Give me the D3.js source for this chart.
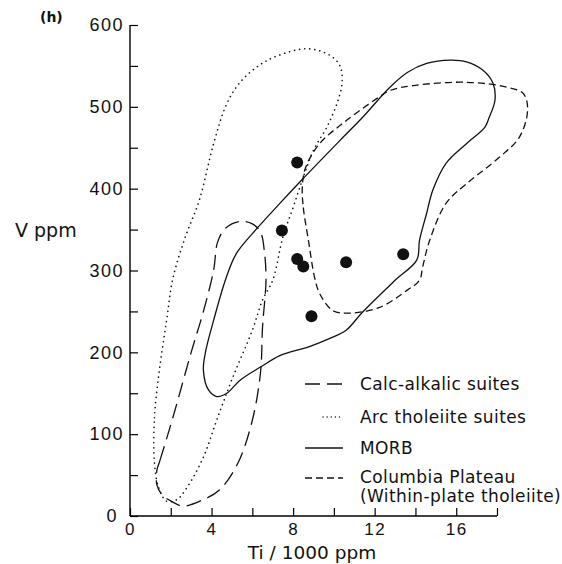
<!DOCTYPE html>
<html>
<head>
<meta charset="utf-8">
<script src="https://cdn.jsdelivr.net/npm/d3@7"></script>
<style>
  body { margin: 0; background: #fff; }
  text { fill: #111; }
</style>
</head>
<body>
<div id="chart"></div>
<script>
// Ti/1000 ppm vs V ppm fields
const calcAlkalic = [[1.32,56],[1.47,68],[2.1,120],[3.0,200],[3.6,250],[4.1,300],[4.3,335],[4.7,352],[5.4,360],[6.0,357],[6.4,347],[6.6,321],[6.67,288],[6.5,231],[6.4,175],[6.0,117],[5.3,65],[4.4,32],[3.6,20],[2.6,12],[2.1,17],[1.57,26],[1.32,38]]
const arcTholeiite = [[1.2,65],[1.2,120],[1.45,180],[1.8,240],[2.1,290],[2.7,340],[3.4,386],[4.1,455],[4.75,504],[5.4,530],[6.3,550],[7.2,562],[8.7,571],[9.8,563],[10.3,550],[10.4,529],[10.15,504],[9.65,475],[9.0,447],[8.5,414],[8.0,377],[7.5,341],[7.0,288],[6.5,264],[6.0,227],[5.05,170],[4.25,117],[3.6,72],[2.8,35],[2.3,20],[1.8,18],[1.4,35]]
const morb = [[3.6,178],[3.85,154],[4.25,146],[4.75,150],[5.4,166],[6.4,182],[7.35,196],[8.8,207],[9.8,217],[10.6,227],[11.4,249],[13.0,288],[14.07,313],[14.2,337],[14.55,370],[14.85,398],[15.5,431],[16.5,455],[17.4,475],[17.6,486],[17.9,508],[17.8,529],[17.3,545],[16.5,555],[15.7,557],[14.55,553],[13.6,542],[12.75,524],[11.4,487],[10.3,459],[8.4,410],[7.35,382],[6.0,345],[5.2,320],[4.7,290],[4.1,239],[3.7,200]]
const columbia = [[8.45,400],[8.5,377],[8.75,337],[9.05,292],[9.3,272],[9.95,251],[10.8,248],[12.25,255],[13.6,276],[14.2,288],[14.35,304],[14.7,337],[15.5,382],[16.5,406],[18.1,438],[19.1,463],[19.5,496],[19.3,516],[18.5,524],[16.5,530],[13.9,526],[12.75,520],[12.1,510],[10.6,483],[9.3,455],[8.6,425]]

const sampleTi = [8.2, 7.45, 8.2, 8.5, 10.6, 13.4, 8.9]
const sampleV = [432, 349, 314, 305, 310, 320, 244]

const xTicks = [0, 4, 8, 12, 16]
const xMinor = [2, 6, 10, 14, 18]
const yTicks = [0, 100, 200, 300, 400, 500, 600]
const yMinor = [50, 150, 250, 350, 450, 550]

const legendLabels = [["Calc-alkalic suites"], ["Arc tholeiite suites"], ["MORB"], ["Columbia Plateau", "(Within-plate tholeiite)"]]
const legendDash = ["15,7", "1,4", null, "7,4"]

width = 562
height = 564

const x = d3.scaleLinear().domain([0, 18]).range([130, 497])
const y = d3.scaleLinear().domain([0, 600]).range([516, 25])

const svg = d3.select("#chart").append("svg")
  .attr("width", width)
  .attr("height", height)
  .style("font-family", "'DejaVu Sans', sans-serif")

// axes, ticks pointing inward
const xAxis = svg.append("g")
  .attr("transform", `translate(0,${y(0)})`)
  .call(d3.axisBottom(x).tickValues(xTicks.concat(xMinor)).tickSize(-8).tickPadding(6)
    .tickFormat(d => xTicks.includes(d) ? d : ""))
xAxis.select(".domain").attr("d", `M${x(0)},0H${x(18)}`).attr("stroke-width", 1.4)
xAxis.selectAll(".tick line").attr("stroke-width", 1.2)
xAxis.selectAll("text").style("font-size", "17px").style("letter-spacing", "1.5px").attr("dy", "0.75em")

const yAxis = svg.append("g")
  .attr("transform", `translate(${x(0)},0)`)
  .call(d3.axisLeft(y).tickValues(yTicks.concat(yMinor)).tickSize(-8).tickPadding(6)
    .tickFormat(d => yTicks.includes(d) ? d : ""))
yAxis.select(".domain").attr("d", `M0,${y(0)}V${y(600)}`).attr("stroke-width", 1.4)
yAxis.selectAll(".tick line").attr("stroke-width", 1.2)
yAxis.selectAll("text").style("font-size", "18px").style("letter-spacing", "1.5px")
yAxis.selectAll(".tick").filter(d => d === 0).select("text").attr("x", -12)

svg.append("text").attr("x", 40).attr("y", 22).style("font-size", "14px").style("font-weight", "bold").text("(h)")
svg.append("text").attr("x", 15).attr("y", 237).style("font-size", "19px").text("V ppm")
svg.append("text").attr("x", 312).attr("y", 559).attr("text-anchor", "middle").style("font-size", "18.5px").text("Ti / 1000 ppm")

// fields
const line = d3.line().x(d => x(d[0])).y(d => y(d[1])).curve(d3.curveCatmullRomClosed.alpha(0.5))
const fields = [calcAlkalic, arcTholeiite, morb, columbia]
svg.selectAll(".field")
  .data(fields)
  .enter().append("path")
  .attr("class", "field")
  .attr("d", line)
  .attr("fill", "none")
  .attr("stroke", "#111")
  .attr("stroke-width", (d, i) => i === 1 ? 1.6 : 1.3)
  .attr("stroke-linecap", (d, i) => i === 1 ? "round" : "butt")
  .attr("stroke-dasharray", (d, i) => i === 1 ? "0.1,5" : legendDash[i])

svg.selectAll(".sample")
  .data(sampleTi)
  .enter().append("circle")
  .attr("cx", d => x(d))
  .attr("cy", (d, i) => y(sampleV[i]))
  .attr("r", 6)
  .attr("fill", "#111")

// legend
const rowY = [384, 417, 448, 477]
const entry = svg.append("g").selectAll(".entry")
  .data(legendLabels)
  .enter().append("g")
  .attr("class", "entry")
  .attr("transform", (d, i) => `translate(0,${rowY[i]})`)
entry.append("line")
  .attr("x1", (d, i) => i === 1 ? 323 : 305).attr("x2", 343)
  .attr("y1", (d, i) => i === 3 ? 1 : 0).attr("y2", (d, i) => i === 3 ? 1 : 0)
  .attr("stroke", "#111").attr("stroke-width", 1.3)
  .attr("stroke-linecap", (d, i) => i === 1 ? "round" : "butt")
  .attr("stroke-dasharray", (d, i) => i === 1 ? "0.1,4" : legendDash[i])
entry.append("text")
  .attr("x", 360)
  .style("font-size", "17px")
  .style("letter-spacing", "0.4px")
  .selectAll("tspan")
  .data(d => d)
  .enter().append("tspan")
  .attr("x", 360)
  .attr("y", (d, i) => 6 + i * 19)
  .text(d => d)
</script>
</body>
</html>
